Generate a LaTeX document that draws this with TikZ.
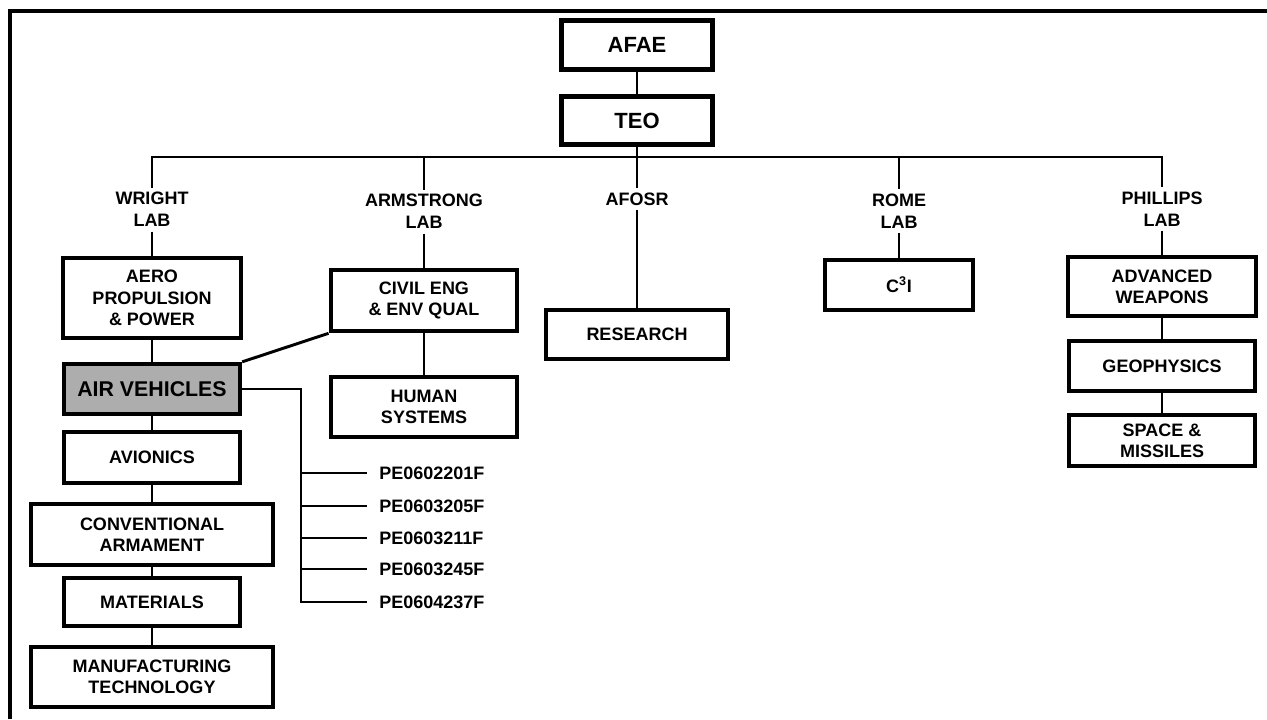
\documentclass[tikz,border=0pt]{standalone}
\usepackage{fontspec}
\setmainfont{Liberation Sans}

\begin{document}
\begin{tikzpicture}[
    x=0.75pt, y=-0.75pt,
    box/.style={draw, line width=3.2pt, fill=white, align=center, inner sep=2pt,
                font=\fontsize{13.5}{16}\selectfont\bfseries},
    topbox/.style={box, line width=3.75pt, minimum width=113pt, minimum height=37pt,
                   font=\fontsize{16.5}{19}\selectfont\bfseries},
    lab/.style={align=center, font=\fontsize{13.5}{16.5}\selectfont\bfseries},
    pe/.style={anchor=west, inner xsep=9pt, font=\fontsize{13.5}{16}\selectfont\bfseries},
    link/.style={line width=2.2pt},
]
\useasboundingbox (0,0) rectangle (1267,719);
% frame
\draw[line width=3.5pt] (10,719) -- (10,11) -- (1267,11);

\node[topbox] (afae) at (637,45) {AFAE};
\node[topbox, minimum height=36pt] (teo) at (637,120.5) {TEO};

% labs
\node[lab] (wright) at (152,209.5) {WRIGHT\\LAB};
\node[lab] (armstrong) at (424,211.5) {ARMSTRONG\\LAB};
\node[lab] (afosr) at (637,199) {AFOSR};
\node[lab] (rome) at (899,211) {ROME\\LAB};
\node[lab] (phillips) at (1162,209) {PHILLIPS\\LAB};

% wright lab
\node[box, minimum width=133pt, minimum height=60pt] (aero) at (152,298)
     {AERO\\PROPULSION\\\& POWER};
\node[box, minimum width=132pt, minimum height=37.5pt, fill=black!32,
      font=\fontsize{16}{19}\selectfont\bfseries] (airveh) at (152,389) {AIR VEHICLES};
\node[box, minimum width=132pt, minimum height=38pt] (avionics) at (152,457.5) {AVIONICS};
\node[box, minimum width=182pt, minimum height=46pt] (convarm) at (152,534.5)
     {CONVENTIONAL\\ARMAMENT};
\node[box, minimum width=132pt, minimum height=36pt] (materials) at (152,602) {MATERIALS};
\node[box, minimum width=182pt, minimum height=45pt] (manuf) at (152,677)
     {MANUFACTURING\\TECHNOLOGY};

% armstrong lab
\node[box, minimum width=140pt, minimum height=46pt] (civil) at (424,300.5)
     {CIVIL ENG\\\& ENV QUAL};
\node[box, minimum width=139.5pt, minimum height=45pt] (human) at (424,407)
     {HUMAN\\SYSTEMS};

% afosr, rome lab
\node[box, minimum width=137pt, minimum height=37pt] (research) at (637,334.5) {RESEARCH};
\node[box, minimum width=111pt, minimum height=37.5pt] (c3i) at (899,285) {C\textsuperscript{3}I};

% phillips lab
\node[box, minimum width=141pt, minimum height=44pt] (advweap) at (1162,286.5)
     {ADVANCED\\WEAPONS};
\node[box, minimum width=140pt, minimum height=37.5pt] (geophys) at (1162,366) {GEOPHYSICS};
\node[box, minimum width=140pt, minimum height=38pt] (space) at (1162,440.5)
     {SPACE \&\\MISSILES};

% program elements
\node[pe] (pe1) at (367,473) {PE0602201F};
\node[pe] (pe2) at (367,506) {PE0603205F};
\node[pe] (pe3) at (367,538) {PE0603211F};
\node[pe] (pe4) at (367,569) {PE0603245F};
\node[pe] (pe5) at (367,602) {PE0604237F};

\coordinate (bus) at (637,157);
\coordinate (spine) at (301,602);

\draw[link] (afae) -- (teo);
\draw[link] (teo) -- (bus);
\draw[link] (wright.north) |- (bus) -| (phillips.north);
\draw[link] (armstrong.north |- bus) -- (armstrong.north);
\draw[link] (afosr.north |- bus) -- (afosr.north);
\draw[link] (rome.north |- bus) -- (rome.north);

\draw[link] (wright) -- (aero);
\draw[link] (aero) -- (airveh);
\draw[link] (airveh) -- (avionics);
\draw[link] (avionics) -- (convarm);
\draw[link] (convarm) -- (materials);
\draw[link] (materials) -- (manuf);

\draw[link] (armstrong) -- (civil);
\draw[link] (civil) -- (human);
\draw[link] (civil.south west) -- (airveh.north east);

\draw[link] (afosr) -- (research);
\draw[link] (rome) -- (c3i);

\draw[link] (phillips) -- (advweap);
\draw[link] (advweap) -- (geophys);
\draw[link] (geophys) -- (space);

\draw[link] (airveh.east) -| (spine) -- (pe5.west);
\draw[link] (pe1.west -| spine) -- (pe1.west);
\draw[link] (pe2.west -| spine) -- (pe2.west);
\draw[link] (pe3.west -| spine) -- (pe3.west);
\draw[link] (pe4.west -| spine) -- (pe4.west);
\end{tikzpicture}
\end{document}
